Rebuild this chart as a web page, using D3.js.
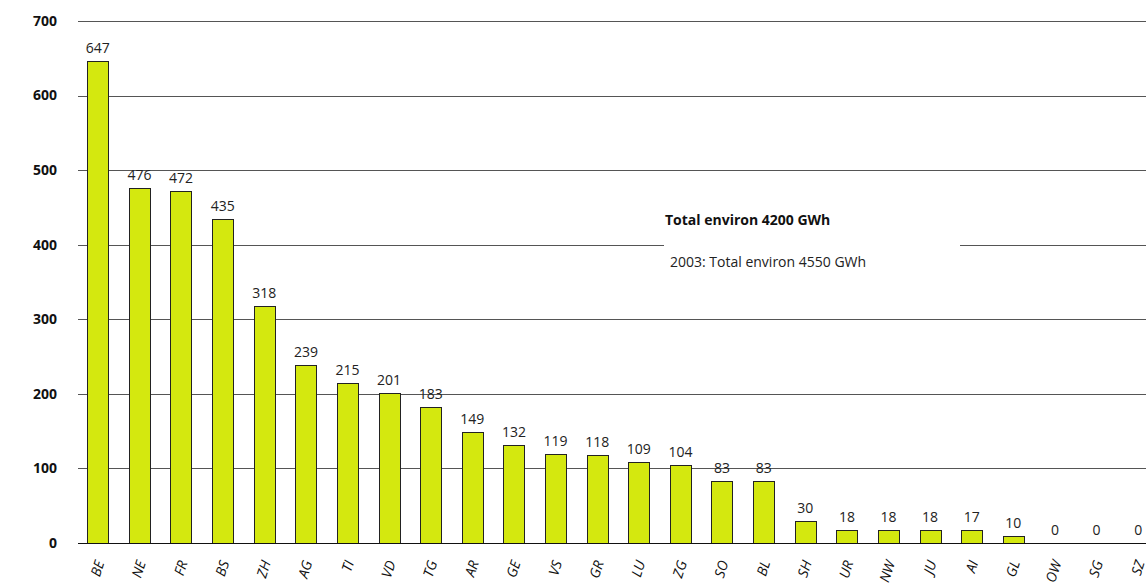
<!DOCTYPE html>
<html>
<head>
<meta charset="utf-8">
<script src="https://cdn.jsdelivr.net/npm/d3@7/dist/d3.min.js"></script>
<style>
  body { margin: 0; background: #fff; }
  svg { display: block; font-family: "Open Sans", "DejaVu Sans", sans-serif; }
</style>
</head>
<body>
<svg id="chart" width="1146" height="584"></svg>
<script>
// cantons, sorted by value
var cantons = ["BE", "NE", "FR", "BS", "ZH", "AG", "TI", "VD", "TG", "AR", "GE", "VS", "GR",
               "LU", "ZG", "SO", "BL", "SH", "UR", "NW", "JU", "AI", "GL", "OW", "SG", "SZ"];
var gwh = [647, 476, 472, 435, 318, 239, 215, 201, 183, 149, 132, 119, 118,
           109, 104, 83, 83, 30, 18, 18, 18, 17, 10, 0, 0, 0];
var yTicks = [0, 100, 200, 300, 400, 500, 600, 700];
var noteMain = "Total environ 4200 GWh";
var notePrev = "2003: Total environ 4550 GWh";

var svg = d3.select("#chart")
  , plotLeft = 77
  , plotRight = 1159
  , plotTop = 21
  , plotBottom = 543
;

var x = d3.scaleBand()
    .domain(cantons)
    .range([plotLeft, plotRight])
    .paddingInner(0.49)
    .paddingOuter(0.245);

var y = d3.scaleLinear()
    .domain([0, 700])
    .range([plotBottom, plotTop]);

// gridlines
svg.append("g")
  .selectAll("line")
  .data(yTicks.filter(function(d) { return d > 0; }))
  .join("line")
    .attr("x1", plotLeft + 1)
    .attr("x2", 1146)
    .attr("y1", function(d) { return Math.round(y(d)) + 0.5; })
    .attr("y2", function(d) { return Math.round(y(d)) + 0.5; })
    .attr("stroke", "#555")
    .attr("stroke-width", 1);

// y tick labels
svg.append("g")
  .selectAll("text")
  .data(yTicks)
  .join("text")
    .attr("x", 57)
    .attr("y", function(d) { return y(d); })
    .attr("dy", "0.35em")
    .attr("text-anchor", "end")
    .attr("font-size", 14)
    .attr("font-weight", "bold")
    .attr("fill", "#111")
    .text(function(d) { return d; });

// annotation, white box knocks out the gridline
var note = svg.append("g");
note.append("rect")
    .attr("x", 664)
    .attr("y", 205)
    .attr("width", 296)
    .attr("height", 70)
    .attr("fill", "#fff");
note.append("text")
    .attr("x", 665)
    .attr("y", 225)
    .attr("font-size", 14)
    .attr("font-weight", "bold")
    .attr("fill", "#111")
    .text(noteMain);
note.append("text")
    .attr("x", 670)
    .attr("y", 267)
    .attr("font-size", 14)
    .attr("fill", "#222")
    .text(notePrev);

// bars
svg.append("g")
  .selectAll("rect")
  .data(gwh)
  .join("rect")
    .attr("x", function(d, i) { return Math.round(x(cantons[i])) + 0.5; })
    .attr("y", function(d) { return Math.round(y(d)) + 0.5; })
    .attr("width", Math.round(x.bandwidth()))
    .attr("height", function(d) { return Math.round(y(0)) - Math.round(y(d)); })
    .attr("fill", "#d4e80f")
    .attr("stroke", "#222")
    .attr("stroke-width", 1)
    .style("display", function(d) { return d > 0 ? null : "none"; });

// baseline
svg.append("line")
    .attr("x1", plotLeft + 1)
    .attr("x2", 1146)
    .attr("y1", Math.round(y(0)) + 0.5)
    .attr("y2", Math.round(y(0)) + 0.5)
    .attr("stroke", "#111");

// value labels
svg.append("g")
  .selectAll("text")
  .data(gwh)
  .join("text")
    .attr("x", function(d, i) { return x(cantons[i]) + x.bandwidth() / 2; })
    .attr("y", function(d) { return y(d) - 8; })
    .attr("text-anchor", "middle")
    .attr("font-size", 14)
    .attr("fill", "#222")
    .text(function(d) { return d; });

// category labels
svg.append("g")
  .selectAll("text")
  .data(cantons)
  .join("text")
    .attr("transform", function(d) {
        return "translate(" + (x(d) + x.bandwidth() / 2 + 2) + ",561) rotate(-72)";
      })
    .attr("text-anchor", "end")
    .attr("dy", "0.35em")
    .attr("font-size", 14)
    .attr("font-style", "italic")
    .attr("fill", "#111")
    .text(function(d) { return d; });
</script>
</body>
</html>
